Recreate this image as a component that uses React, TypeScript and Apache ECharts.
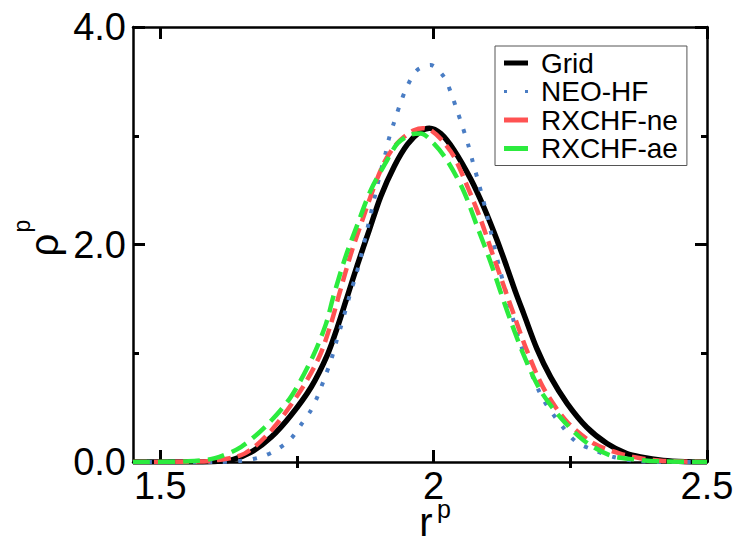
import React, { useEffect, useRef } from 'react';
import * as echarts from 'echarts';

// ---- data ----
const gridX = [1.45, 1.55, 1.6, 1.631, 1.666, 1.703, 1.739, 1.776, 1.806, 1.824, 1.84, 1.861, 1.882, 1.903, 1.928, 1.952, 1.976, 1.992, 2.013, 2.037, 2.068, 2.092, 2.116, 2.134, 2.15, 2.165, 2.189, 2.214, 2.244, 2.28, 2.317, 2.353, 2.378, 2.42, 2.46, 2.5];
const gridY = [0, 0, 0.005, 0.02, 0.09, 0.23, 0.43, 0.69, 0.99, 1.24, 1.49, 1.82, 2.13, 2.44, 2.72, 2.92, 3.04, 3.07, 3.02, 2.87, 2.6, 2.34, 2.04, 1.79, 1.56, 1.36, 1.04, 0.78, 0.54, 0.32, 0.17, 0.077, 0.046, 0.015, 0.003, 0];

const neoX = [1.45, 1.6, 1.65, 1.684, 1.712, 1.739, 1.757, 1.776, 1.789, 1.801, 1.812, 1.821, 1.83, 1.839, 1.848, 1.858, 1.867, 1.879, 1.903, 1.912, 1.918, 1.928, 1.94, 1.952, 1.969, 1.994, 2.019, 2.032, 2.043, 2.053, 2.063, 2.072, 2.081, 2.089, 2.097, 2.104, 2.119, 2.128, 2.153, 2.174, 2.201, 2.238, 2.262, 2.293, 2.329, 2.37, 2.42, 2.5];
const neoY = [0, 0, 0.012, 0.046, 0.11, 0.215, 0.34, 0.48, 0.62, 0.78, 0.93, 1.09, 1.24, 1.4, 1.56, 1.72, 1.89, 2.15, 2.67, 2.84, 2.97, 3.13, 3.31, 3.46, 3.6, 3.65, 3.54, 3.39, 3.23, 3.08, 2.92, 2.75, 2.59, 2.44, 2.28, 2.13, 1.81, 1.64, 1.18, 0.875, 0.57, 0.31, 0.18, 0.11, 0.046, 0.01, 0, 0];

const neX = [1.45, 1.55, 1.6, 1.654, 1.703, 1.757, 1.791, 1.812, 1.826, 1.849, 1.87, 1.891, 1.909, 1.928, 1.946, 1.964, 1.98, 1.995, 2.015, 2.037, 2.062, 2.086, 2.11, 2.131, 2.147, 2.171, 2.201, 2.244, 2.293, 2.341, 2.378, 2.42, 2.5];
const neY = [0, 0.003, 0.015, 0.077, 0.29, 0.66, 0.97, 1.27, 1.52, 1.92, 2.23, 2.53, 2.75, 2.9, 2.99, 3.05, 3.07, 3.05, 2.96, 2.81, 2.53, 2.23, 1.88, 1.58, 1.35, 1.02, 0.68, 0.37, 0.17, 0.077, 0.035, 0.01, 0];

const aeX = [1.45, 1.55, 1.6, 1.648, 1.697, 1.739, 1.779, 1.803, 1.817, 1.839, 1.861, 1.885, 1.912, 1.934, 1.958, 1.976, 2.0, 2.025, 2.055, 2.08, 2.104, 2.122, 2.14, 2.165, 2.195, 2.232, 2.274, 2.323, 2.365, 2.42, 2.5];
const aeY = [0, 0.006, 0.035, 0.14, 0.35, 0.6, 0.97, 1.27, 1.53, 1.89, 2.19, 2.5, 2.75, 2.93, 3.01, 3.02, 2.93, 2.77, 2.49, 2.16, 1.84, 1.57, 1.31, 0.98, 0.66, 0.41, 0.2, 0.06, 0.025, 0.005, 0];

const seriesNames = ['Grid', 'NEO-HF', 'RXCHF-ne', 'RXCHF-ae'];
const xMajorTicks = [1.5, 2, 2.5];
const xMinorTicks = [1.75, 2.25];
const xMin = 1.45;
const xMax = 2.5;
const yMin = 0;
const yMax = 4;
const yStep = 2;

const FONT = "'Liberation Sans', Arial, Helvetica, sans-serif";

function zip(xs: number[], ys: number[]) {
  return xs.map((x, i) => [x, ys[i]]);
}

export default function App() {
  const ref = useRef<HTMLDivElement>(null);
  useEffect(() => {
    const chart = echarts.init(ref.current!, null, { renderer: 'svg' });
    const axisLine = { show: true, onZero: false, lineStyle: { color: '#000', width: 2.5 } };
    const tickStyle = { color: '#000', width: 3 };
    const xBase = { type: 'value', min: xMin, max: xMax, splitLine: { show: false } };
    const yBase = {
      type: 'value', min: yMin, max: yMax, interval: yStep,
      splitLine: { show: false }, minorSplitLine: { show: false },
    };
    const textBase = (text: string, size: number, lh: number) => ({
      text, fill: '#000', font: `${size}px ${FONT}`, fontSize: size, fontFamily: FONT, lineHeight: lh,
      textAlign: 'center', textVerticalAlign: 'middle', align: 'center', verticalAlign: 'middle',
    });

    const option: any = {
      animation: false,
      backgroundColor: '#fff',
      grid: { left: 133, right: 33, top: 27, bottom: 82, containLabel: false },
      xAxis: [
        {
          ...xBase, position: 'bottom', axisLine,
          axisTick: { show: true, inside: true, length: 12, customValues: xMajorTicks, lineStyle: tickStyle },
          axisLabel: {
            show: true, customValues: xMajorTicks, fontSize: 38, lineHeight: 28, color: '#000', fontFamily: FONT, margin: 10,
            formatter: (v: number) => String(v),
          },
        },
        {
          ...xBase, position: 'bottom', axisLine: { show: false },
          axisTick: { show: true, inside: true, length: 6, customValues: xMinorTicks, lineStyle: tickStyle },
          axisLabel: { show: false },
        },
        {
          ...xBase, position: 'top', axisLine,
          axisTick: { show: true, inside: true, length: 12, customValues: xMajorTicks, lineStyle: tickStyle },
          axisLabel: { show: false },
        },
        {
          ...xBase, position: 'top', axisLine: { show: false },
          axisTick: { show: true, inside: true, length: 6, customValues: xMinorTicks, lineStyle: tickStyle },
          axisLabel: { show: false },
        },
      ],
      yAxis: [
        {
          ...yBase, position: 'left', axisLine,
          axisTick: { show: true, inside: true, length: 12, lineStyle: tickStyle },
          minorTick: { show: true, splitNumber: 2, length: 6, lineStyle: tickStyle },
          axisLabel: {
            show: true, fontSize: 38, color: '#000', fontFamily: FONT, margin: 7,
            formatter: (v: number) => v.toFixed(1),
          },
        },
        {
          ...yBase, position: 'right', axisLine,
          axisTick: { show: true, inside: true, length: 12, lineStyle: tickStyle },
          minorTick: { show: true, splitNumber: 2, length: 6, lineStyle: tickStyle },
          axisLabel: { show: false },
        },
      ],
      legend: {
        show: true,
        orient: 'vertical',
        left: 495,
        top: 46,
        selectedMode: false,
        backgroundColor: '#fff',
        borderColor: '#555',
        borderWidth: 1,
        borderRadius: 0,
        padding: [3, 9, 3, 9],
        itemGap: 0.5,
        itemWidth: 24,
        itemHeight: 5,
        textStyle: { fontSize: 28, color: '#000', fontFamily: FONT, padding: [0, 0, 0, 8] },
        data: [
          { name: 'Grid', icon: 'rect' },
          { name: 'NEO-HF', icon: 'path://M0,0h1v1h-1z M7,0h1v1h-1z' },
          { name: 'RXCHF-ne', icon: 'rect' },
          { name: 'RXCHF-ae', icon: 'rect' },
        ],
      },
      graphic: [
        { type: 'text', x: 426, y: 522, style: textBase('r', 40, 24) },
        { type: 'text', x: 444, y: 509, style: textBase('p', 25, 16) },
        { type: 'text', x: 44, y: 245, rotation: Math.PI / 2, style: textBase('ρ', 40, 28) },
        { type: 'text', x: 22, y: 226, rotation: Math.PI / 2, style: textBase('p', 23, 18) },
      ],
      series: [
        {
          name: seriesNames[0], type: 'line', data: zip(gridX, gridY), smooth: 0.3,
          showSymbol: false, symbol: 'none', z: 2,
          itemStyle: { color: '#000' },
          lineStyle: { color: '#000', width: 5.5 },
        },
        {
          name: seriesNames[1], type: 'line', data: zip(neoX, neoY), smooth: 0.3,
          showSymbol: false, symbol: 'none', z: 3,
          itemStyle: { color: '#4a7dc4' },
          lineStyle: { color: '#4a7dc4', width: 4, type: [4, 11], cap: 'butt' },
        },
        {
          name: seriesNames[2], type: 'line', data: zip(neX, neY), smooth: 0.3,
          showSymbol: false, symbol: 'none', z: 4,
          itemStyle: { color: '#ff5252' },
          lineStyle: { color: '#ff5252', width: 4.5, type: [14, 7], cap: 'butt' },
        },
        {
          name: seriesNames[3], type: 'line', data: zip(aeX, aeY), smooth: 0.3,
          showSymbol: false, symbol: 'none', z: 5,
          itemStyle: { color: '#2ceb3e' },
          lineStyle: { color: '#2ceb3e', width: 4.5, type: [17, 8], cap: 'butt' },
        },
      ],
    };
    chart.setOption(option);
    return () => chart.dispose();
  }, []);
  return (
    <div
      ref={ref}
      style={{ position: 'absolute', left: 0, top: 0, width: 740, height: 544, background: '#fff' }}
    />
  );
}
